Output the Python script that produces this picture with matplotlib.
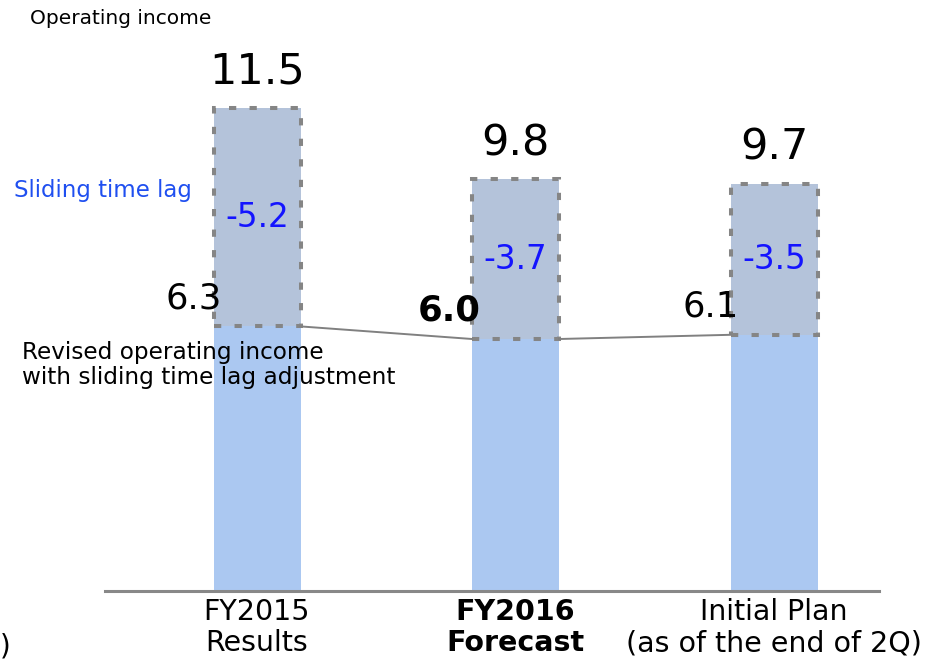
import matplotlib
matplotlib.use("Agg")
import matplotlib.pyplot as plt
import numpy as np

categories = ["FY2015\nResults", "FY2016\nForecast", "Initial Plan\n(as of the end of 2Q)"]
operating_income = [11.5, 9.8, 9.7]
revised_income = [6.3, 6.0, 6.1]
time_lag = [-5.2, -3.7, -3.5]
revised_bold = [False, True, False]

W, H = 940, 659
fig = plt.figure(figsize=(W / 100, H / 100), dpi=100)

# axes: x from pixel 105 to 879, baseline at pixel row 591, 42 px per unit
base_px = 591
px_per_unit = 42.0
ax = fig.add_axes([105 / W, (H - base_px) / H, 774 / W, base_px / H])
ax.set_ylim(0, base_px / px_per_unit)
spacing = 258.5
ax.set_xlim(-(257 - 105) / spacing, (879 - 257) / spacing)

x = np.arange(len(categories))
width = 87 / spacing
operating = np.array(operating_income)
revised = np.array(revised_income)

ax.bar(x, revised, width=width, color="#abc8f1", zorder=2)
ax.bar(x, operating - revised, bottom=revised, width=width, color="#b4c3da",
       edgecolor="#858585", linewidth=2.9, linestyle=(0, (1.8, 3.3)), zorder=3)

# connector lines between revised tops
for i in range(len(x) - 1):
    ax.plot([x[i] + width / 2, x[i + 1] - width / 2], [revised[i], revised[i + 1]],
            color="#808080", lw=1.4, zorder=4)

for xi, top in zip(x, operating):
    ax.annotate(f"{top:.1f}", (xi, top), xytext=(0, 11), textcoords="offset points",
                ha="center", va="bottom", fontsize=31, color="black")

for xi, lo, hi, lag in zip(x, revised, operating, time_lag):
    ax.text(xi, (lo + hi) / 2, f"{lag:.1f}", ha="center", va="center",
            fontsize=23.5, color="#1414ff", zorder=5)

for xi, val, bold in zip(x, revised, revised_bold):
    ax.annotate(f"{val:.1f}", (xi - width / 2, val), xytext=(6, 8),
                textcoords="offset points", ha="right", va="bottom",
                fontsize=25.5, fontweight="bold" if bold else "normal",
                color="black", zorder=6)

ax.set_xticks(x)
ax.set_xticklabels(categories, fontsize=20.5, linespacing=1.15)
for lbl, bold in zip(ax.get_xticklabels(), revised_bold):
    if bold:
        lbl.set_fontweight("bold")
ax.tick_params(axis="x", length=0, pad=5)
ax.set_yticks([])
for side in ("top", "right", "left"):
    ax.spines[side].set_visible(False)
ax.spines["bottom"].set_color("#888888")
ax.spines["bottom"].set_linewidth(2.2)
ax.spines["bottom"].set_zorder(5)
ax.patch.set_visible(False)

fig.text(30 / W, 1 - 18 / H, "Operating income", fontsize=14.5, va="center", ha="left")
fig.text(14 / W, 1 - 190 / H, "Sliding time lag", fontsize=16.5, color="#1f4ff0",
         va="center", ha="left")
fig.text(22 / W, 1 - 365 / H, "Revised operating income\nwith sliding time lag adjustment",
         fontsize=16.7, va="center", ha="left", linespacing=1.15)
fig.text(0, 1 - 646 / H, ")", fontsize=20, va="center", ha="left")

fig.savefig("out.png", dpi=100)
